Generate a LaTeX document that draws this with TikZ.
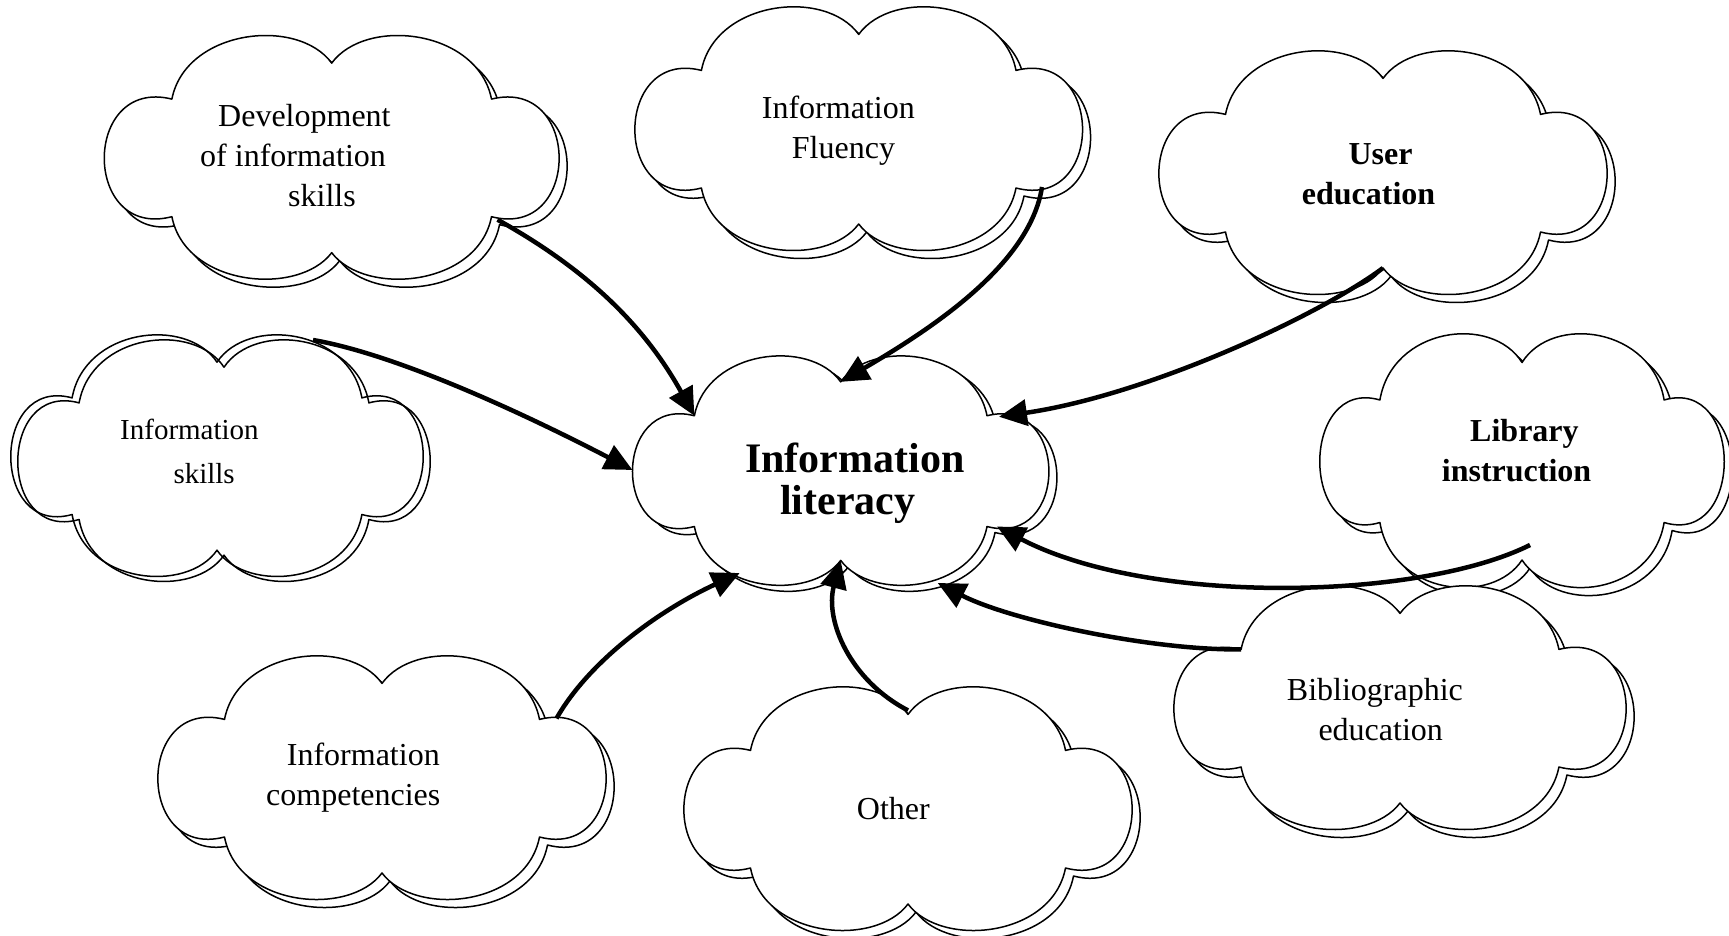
\documentclass[tikz,border=0pt]{standalone}
\usepackage{fontspec}
\setmainfont{Liberation Serif}
\usetikzlibrary{arrows.meta,calc}

\tikzset{
  x=1pt, y=-1pt,
  cloud path/.style={insert path={
    (-0.70,-0.48) .. controls (-0.64,-1.06) and (-0.15,-1.17) .. (0,-0.78)
    .. controls (0.15,-1.17) and (0.64,-1.06) .. (0.70,-0.48)
    .. controls (1.095,-0.667) and (1.095,0.694) .. (0.70,0.50)
    .. controls (0.64,1.083) and (0.146,1.167) .. (0,0.80)
    .. controls (-0.146,1.167) and (-0.64,1.083) .. (-0.70,0.50)
    .. controls (-1.095,0.694) and (-1.095,-0.667) .. (-0.70,-0.48) -- cycle}},
  cloudline/.style={draw=black, line width=1.5pt, line join=round},
  cloudfront/.style={cloudline, fill=white},
  cloudback/.style={cloudline, fill=white},
  lbl/.style={anchor=base west, inner sep=0pt, font=\fontsize{32}{40}\selectfont},
  lblbold/.style={lbl, font=\fontsize{32}{40}\selectfont\bfseries},
  conn/.style={line width=4.5pt, -{Triangle[length=28pt,width=26pt]}}
}

% #1 front style, #2 name, #3 #4 centre, #5 #6 half width / half height, #7 #8 shadow offset
\newcommand\drawcloud[8][cloudfront]{%
  \path[cloudback, shift={(#3+#7,#4+#8)}, xscale=#5, yscale=#6, cloud path];
  \path[#1, shift={(#3,#4)}, xscale=#5, yscale=#6, cloud path];
  \begin{scope}[shift={(#3,#4)}, xscale=#5, yscale=#6]
    \coordinate (#2-c) at (0,0);
    \coordinate (#2-t) at (0,-0.78);
    \coordinate (#2-tr) at (0.70,-0.48);
    \coordinate (#2-br) at (0.70,0.50);
    \coordinate (#2-b) at (0,0.80);
    \coordinate (#2-bl) at (-0.70,0.50);
    \coordinate (#2-tl) at (-0.70,-0.48);
    \coordinate (#2-w) at (-0.996,0);
    \coordinate (#2-e) at (0.996,0);
  \end{scope}}

\begin{document}
\begin{tikzpicture}
\useasboundingbox (0,0) rectangle (1729,936);
\clip (0,0) rectangle (1729,936);

% clouds
\drawcloud{dev}{331.7}{156.7}{228.3}{120}{8}{8}
\drawcloud{flu}{858.7}{128}{224.7}{120}{8}{8}
\drawcloud{ue}{1383}{172}{225}{120}{8}{8}
\drawcloud[cloudline]{is}{217}{455}{207}{119}{7}{5}
\drawcloud{li}{1522}{460}{203}{125}{8}{8}
\drawcloud{il}{840.7}{470}{209}{113}{8}{6}
\drawcloud{com}{382}{777}{225}{120}{8}{8}
\drawcloud{oth}{908}{808}{225}{120}{8}{8}
\drawcloud{bib}{1400}{707}{227}{120}{8}{8}

% labels
\node[lbl] (dev) at (200,126.7) {\begin{tabular}[t]{@{}l@{}}\hspace*{18pt}Development\\of information\\\hspace*{88pt}skills\end{tabular}};
\node[lbl] (flu) at (761.7,118.3) {\begin{tabular}[t]{@{}l@{}}Information\\\hspace*{30pt}Fluency\end{tabular}};
\node[lblbold] (ue) at (1301.7,165) {\begin{tabular}[t]{@{}l@{}}\hspace*{46.6pt}User\\education\end{tabular}};
\node[lbl, font=\fontsize{29}{44}\selectfont] (is) at (120,439.3) {\begin{tabular}[t]{@{}l@{}}Information\\\hspace*{53.3pt}skills\end{tabular}};
\node[lblbold] (li) at (1441.7,441.7) {\begin{tabular}[t]{@{}l@{}}\hspace*{28.3pt}Library\\instruction\end{tabular}};
\node[lbl, font=\fontsize{42}{40.7}\selectfont\bfseries] (il) at (745,472.7) {\begin{tabular}[t]{@{}l@{}}Information\\\hspace*{35pt}literacy\end{tabular}};
\node[lbl] (com) at (266,765) {\begin{tabular}[t]{@{}l@{}}\hspace*{20.7pt}Information\\competencies\end{tabular}};
\node[lbl] (oth) at (856.7,819.3) {Other};
\node[lbl] (bib) at (1286.7,700) {\begin{tabular}[t]{@{}l@{}}Bibliographic\\\hspace*{31.6pt}education\end{tabular}};

% connectors
\draw[conn] ($(dev-br)+(6,3)$) .. controls +(90,50) and +(-50,-90) .. (il-tl);
\draw[conn] ($(flu-br)+(26,-1)$) .. controls +(-12,78) and +(89,-52) .. (il-t);
\draw[conn] (ue-b) .. controls +(-63,47) and +(150,-22) .. ($(il-tr)+(12,1)$);
\draw[conn] ($(is-c)+(96,-115)$) .. controls +(87,15) and +(-100,-52) .. (il-w);
\draw[conn] ($(li-c)+(8,85)$) .. controls +(-110,55) and +(153,80) .. ($(il-br)+(10,0)$);
\draw[conn] (bib-tl) .. controls +(-91,1) and +(72,37) .. ($(il-c)+(97,113)$);
\draw[conn] ($(oth-t)+(0,-4)$) .. controls +(-58,-30) and +(-16,60) .. (il-b);
\draw[conn] ($(com-tr)+(17,-1)$) .. controls +(33,-58) and +(-80,37) .. ($(il-c)+(-101,103)$);
\end{tikzpicture}
\end{document}
